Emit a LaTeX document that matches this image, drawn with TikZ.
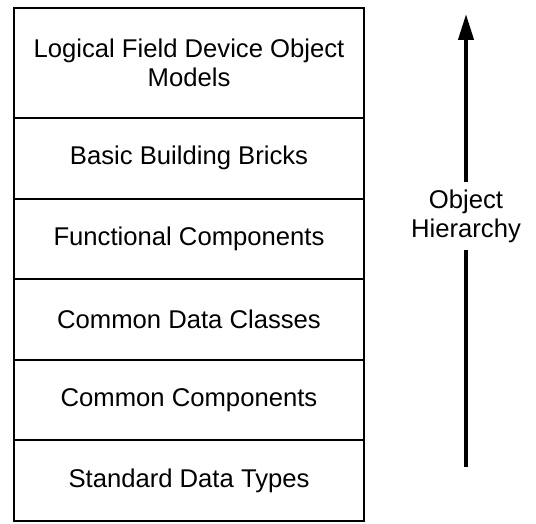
\documentclass[tikz,border=0pt]{standalone}
\usepackage{fontspec}
\setmainfont{Liberation Sans}
\usetikzlibrary{arrows.meta, positioning}

\tikzset{
    layer/.style={rectangle, draw, line width=1.1pt, minimum width=7cm,
        minimum height=1.612cm, outer sep=0pt, align=center},
}

\begin{document}
\begin{tikzpicture}[x=0.02cm, y=-0.02cm, every node/.style={font=\fontsize{14.6}{16.6}\selectfont}]

    \useasboundingbox (0,0) rectangle (536,523);

    % stack of layers, top to bottom
    \node[layer, minimum height=2.2cm] (ldm) at (189,63) {Logical Field Device Object\\Models};
    \node[layer, below=0pt of ldm] (bbb) {Basic Building Bricks};
    \node[layer, below=0pt of bbb] (fc) {Functional Components};
    \node[layer, below=0pt of fc] (cdc) {Common Data Classes};
    \node[layer, below=0pt of cdc] (cc) {Common Components};
    \node[layer, below=0pt of cc] (sdt) {Standard Data Types};

    % hierarchy arrow
    \coordinate (base) at (466,467);
    \coordinate (tip) at (466,14);
    \node[align=center, inner sep=1pt, outer sep=3pt] (hier) at (466,216) {Object\\Hierarchy};
    \draw[line width=2.3pt] (base) -- (hier.south);
    \draw[-{Triangle[length=5.2mm, width=3mm]}, line width=2.3pt] (hier.north) -- (tip);

\end{tikzpicture}
\end{document}
